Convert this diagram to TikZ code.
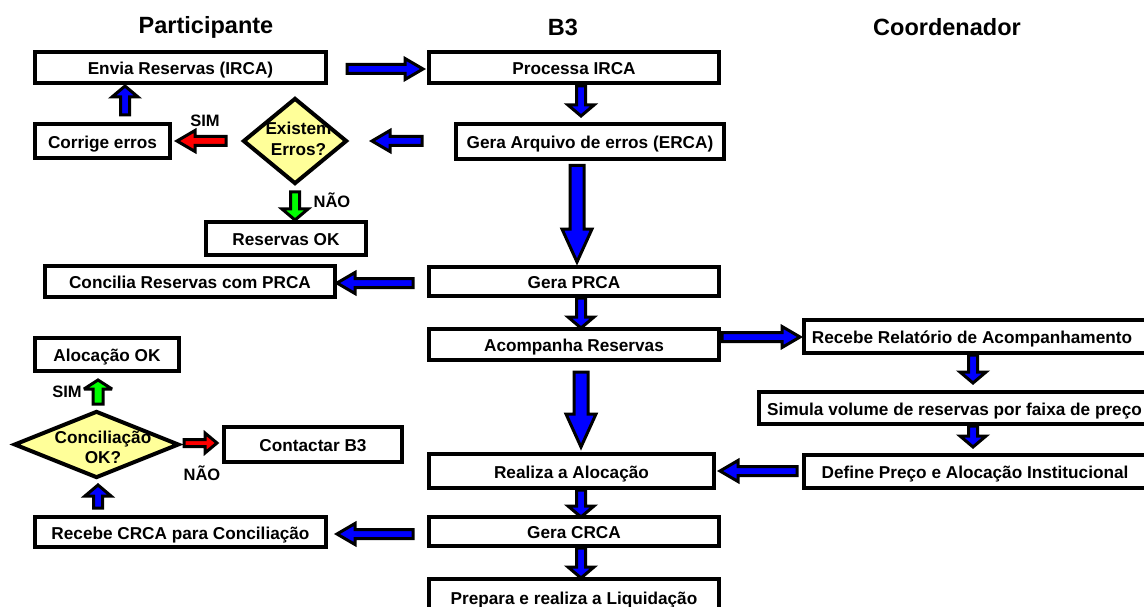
\documentclass[tikz,border=0pt]{standalone}
\usepackage{fontspec}
\setmainfont{Liberation Sans}
\usetikzlibrary{calc,shapes.geometric}
\definecolor{dyellow}{RGB}{255,255,153}
\definecolor{ablue}{RGB}{0,0,255}
\definecolor{ared}{RGB}{255,0,0}
\definecolor{agreen}{RGB}{0,255,0}
\newcommand\blockarrow[6]{%
  \coordinate (ba) at #5; \coordinate (bb) at #6;
  \coordinate (bh) at ($(bb)!#4!(ba)$);
  \filldraw[fill=#1, draw=black, line width=3pt, line join=miter, miter limit=3]
    ($(ba)!#2!90:(bb)$) -- ($(bh)!#2!90:(bb)$) -- ($(bh)!#3!90:(bb)$) -- (bb)
    -- ($(bh)!#3!-90:(bb)$) -- ($(bh)!#2!-90:(bb)$) -- ($(ba)!#2!-90:(bb)$) -- cycle;}
\newcommand\harrow[3]{\blockarrow{#1}{4.5pt}{10.5pt}{18pt}{#2}{#3}}
\newcommand\varrow[3]{\blockarrow{#1}{4.5pt}{13pt}{11pt}{#2}{#3}}
\newcommand\bigarrow[3]{\blockarrow{#1}{7pt}{15pt}{33pt}{#2}{#3}}
\begin{document}
\begin{tikzpicture}[x=1pt,y=-1pt,
  box/.style={draw, line width=4pt, fill=white, inner sep=0pt,
    text height=14.3pt, text depth=0pt,
    font=\fontsize{17.2}{19}\selectfont\bfseries},
  decision/.style={draw, diamond, line width=4pt, fill=dyellow, inner sep=0pt},
  dtext/.style={align=center, inner sep=0pt, font=\fontsize{17.2}{21}\selectfont\bfseries},
  lbl/.style={inner sep=0pt, font=\fontsize{16.5}{18}\selectfont\bfseries},
  ttl/.style={inner sep=0pt, font=\fontsize{23.5}{26}\selectfont\bfseries}]
\useasboundingbox (0,0) rectangle (1144,607);
\clip (0,0) rectangle (1144,607);
\fill[white] (0,0) rectangle (1144,607);
% titles
\node[ttl] (tpart) at (206,27) {Participante};
\node[ttl] (tb3) at (563,27) {B3};
\node[ttl] (tcoord) at (947,27) {Coordenador};
% boxes
\node[box, minimum width=291pt, minimum height=31pt] (envia) at (180.5,67.5) {Envia Reservas (IRCA)};
\node[box, minimum width=290pt, minimum height=31pt] (processa) at (574,67.5) {Processa IRCA};
\node[box, minimum width=135pt, minimum height=34pt] (corrige) at (102.5,141) {Corrige erros};
\node[box, minimum width=268pt, minimum height=35pt] (geraerr) at (590,141.5) {Gera Arquivo de erros (ERCA)};
\node[box, minimum width=160pt, minimum height=33pt] (resok) at (286,238.5) {Reservas OK};
\node[box, minimum width=290pt, minimum height=31pt] (concilia) at (190,281.5) {Concilia Reservas com PRCA};
\node[box, minimum width=290pt, minimum height=29pt] (geraprca) at (574,281.5) {Gera PRCA};
\node[box, minimum width=290pt, minimum height=31pt] (acomp) at (574,344.5) {Acompanha Reservas};
\node[box, minimum width=346pt, minimum height=33pt] (recrel) at (977,336.5) {\hspace{-10pt}Recebe Relatório de Acompanhamento};
\node[box, minimum width=144pt, minimum height=33pt] (alocok) at (107,354.5) {Alocação OK};
\node[box, minimum width=391pt, minimum height=32pt] (simula) at (954.5,408) {Simula volume de reservas por faixa de preço};
\node[box, minimum width=178pt, minimum height=35pt] (contactar) at (313,444.5) {Contactar B3};
\node[box, minimum width=285pt, minimum height=34pt] (realiza) at (571.5,471) {Realiza a Alocação};
\node[box, minimum width=346pt, minimum height=33pt] (define) at (977,471.5) {\hspace{-4pt}Define Preço e Alocação Institucional};
\node[box, minimum width=291pt, minimum height=30pt] (recrca) at (180.5,532) {Recebe CRCA para Conciliação};
\node[box, minimum width=290pt, minimum height=29pt] (geracrca) at (574,531.5) {Gera CRCA};
\node[box, minimum width=290pt, minimum height=36pt] (prepara) at (574,597) {Prepara e realiza a Liquidação};
% decisions
\node[decision, minimum width=104pt, minimum height=86pt] (existem) at (295,141) {};
\node[dtext] (existemt) at (298.5,139) {Existem\\Erros?};
\node[decision, minimum width=165pt, minimum height=67pt] (conc) at (96.5,444.5) {};
\node[dtext, font=\fontsize{17.2}{20}\selectfont\bfseries] (conct) at (103,447) {Conciliação\\OK?};
% labels
\node[lbl] (sim1) at (205,121) {SIM};
\node[lbl] (nao1) at (332,200) {NÃO};
\node[lbl] (sim2) at (67,392) {SIM};
\node[lbl] (nao2) at (202,473) {NÃO};
% arrows
\harrow{ablue}{($(envia.east)+(19,1.5)$)}{($(processa.west)+(-4,1.5)$)}
\varrow{ablue}{($(processa.south)+(7,1)$)}{($(geraerr.north)+(-9,-6)$)}
\harrow{ablue}{($(geraerr.west)+(-32,-0.5)$)}{($(existem.east)+(23,0)$)}
\harrow{ared}{($(existem.west)+(-15,0)$)}{($(corrige.east)+(5,0)$)}
\varrow{ablue}{($(corrige.north)+(22.5,-7)$)}{($(envia.south)+(-55.5,1)$)}
\varrow{agreen}{($(existem.south)+(0,6)$)}{($(resok.north)+(9,0)$)}
\bigarrow{ablue}{($(geraerr.south)+(-13,4.5)$)}{($(geraprca.north)+(3,-3)$)}
\harrow{ablue}{($(geraprca.west)+(-14,1.5)$)}{($(concilia.east)+(0,1.5)$)}
\varrow{ablue}{($(geraprca.south)+(7,0)$)}{($(acomp.north)+(7,1)$)}
\harrow{ablue}{($(acomp.east)+(1,-7.5)$)}{($(recrel.west)+(-2,0.5)$)}
\bigarrow{ablue}{($(acomp.south)+(7,10)$)}{($(realiza.north)+(9.5,-5)$)}
\varrow{ablue}{($(recrel.south)+(-4,0)$)}{($(simula.north)+(18.5,-7)$)}
\varrow{ablue}{($(simula.south)+(18.5,0)$)}{($(define.north)+(-4,-6)$)}
\harrow{ablue}{($(define.west)+(-5,-0.5)$)}{($(realiza.east)+(4,0)$)}
\varrow{ablue}{($(realiza.south)+(9.5,0)$)}{($(geracrca.north)+(7,2)$)}
\harrow{ablue}{($(geracrca.west)+(-14,2.5)$)}{($(recrca.east)+(9,2)$)}
\varrow{ablue}{($(geracrca.south)+(7,0)$)}{($(prepara.north)+(7,1)$)}
\varrow{ablue}{($(recrca.north)+(-82.5,-7)$)}{($(conc.south)+(1.5,5)$)}
\blockarrow{ared}{3.5pt}{10pt}{12pt}{($(conc.east)+(3,-1.5)$)}{($(contactar.west)+(-5,-1.5)$)}
\blockarrow{agreen}{5pt}{14pt}{9pt}{($(conc.north)+(1.5,-5)$)}{($(alocok.south)+(-9,7)$)}
\end{tikzpicture}
\end{document}
